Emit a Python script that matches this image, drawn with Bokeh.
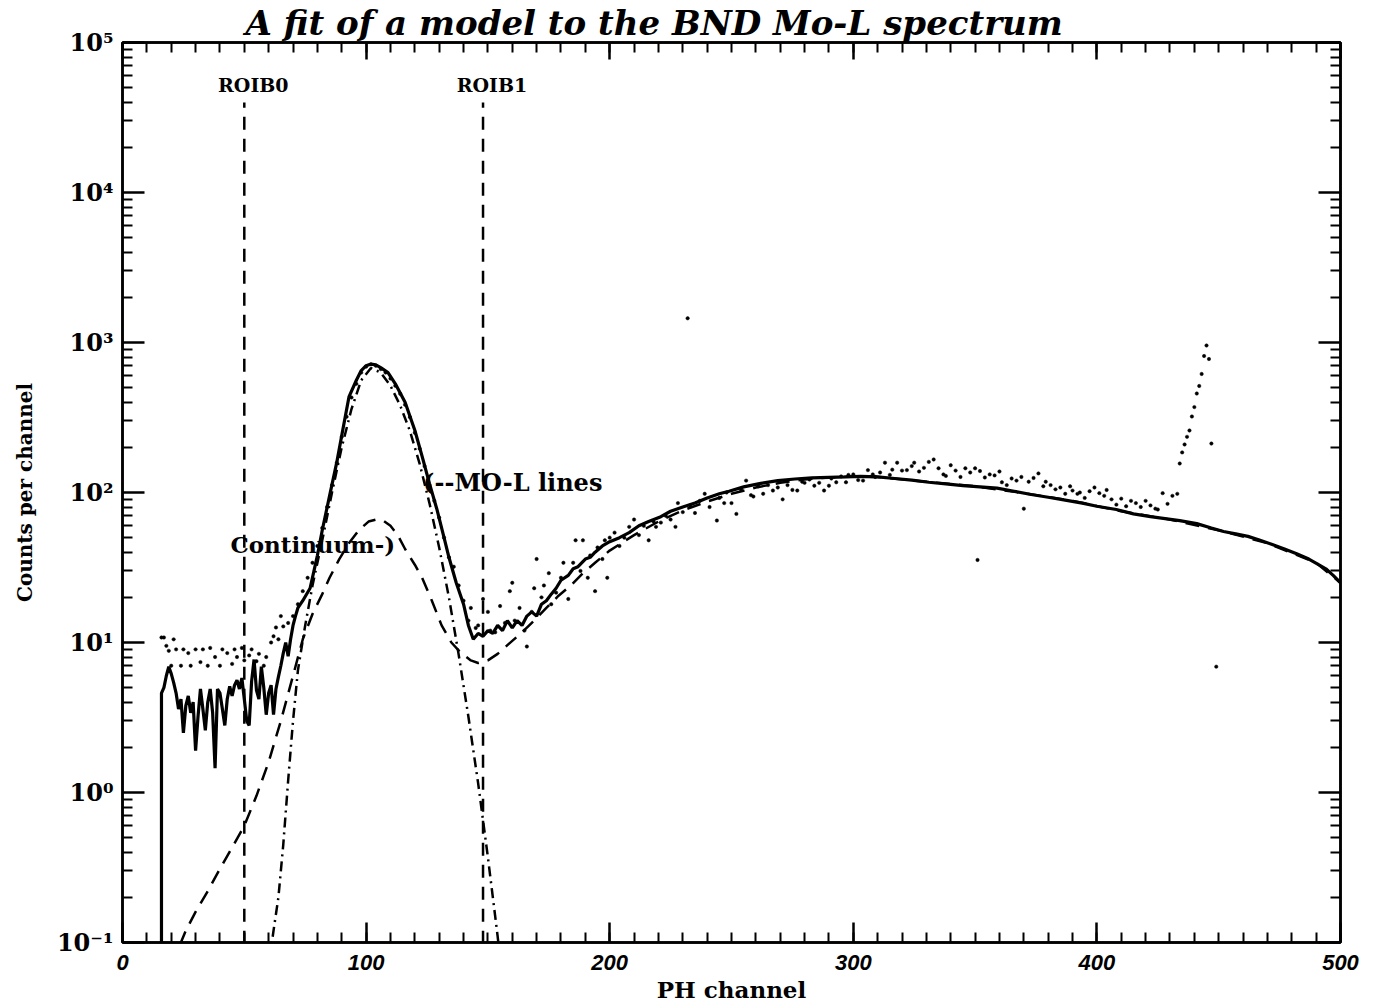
from bokeh.plotting import figure
from bokeh.models import (Range1d, FixedTicker, CustomJSTickFormatter, LinearAxis,
                          LogAxis, Label)
from bokeh.embed import file_html
from bokeh.resources import INLINE

# ---------------- data ----------------
title_text = "A fit of a model to the BND Mo-L spectrum"
x_label = "PH channel"
y_label = "Counts per channel"

x_ticks = [0, 100, 200, 300, 400, 500]
x_tick_labels = ["0", "100", "200", "300", "400", "500"]
y_ticks = [0.1, 1, 10, 100, 1000, 10000, 100000]
y_tick_labels = ["10⁻¹", "10⁰", "10¹", "10²", "10³", "10⁴", "10⁵"]

roi_bounds = [50, 148]
roi_names = ["ROIB0", "ROIB1"]

# solid curve
solid_x = [16, 16, 17, 18, 19, 20, 21, 22, 23, 24, 25, 26, 27, 28, 29, 30, 31, 32, 33, 34,
           35, 36, 37, 38, 39, 40, 41, 42, 43, 44, 45, 46, 47, 48, 49, 50, 51, 52, 53, 54,
           55, 56, 57, 58, 59, 60, 61, 62, 63, 64, 65, 66, 67, 68, 69, 70, 71, 72, 74, 77,
           80, 82, 85, 88, 90, 93, 96, 98, 100, 102, 104, 106, 109, 112, 116, 120, 123, 126,
           129, 132, 134, 137, 140, 142, 144, 146, 148, 150, 152, 154, 156, 158, 160, 162,
           164, 166, 168, 170, 172, 174, 176, 178, 180, 183, 185, 187, 190, 192, 194, 197,
           200, 204, 208, 212, 216, 221, 225, 230, 235, 240, 245, 249, 255, 262, 269, 276,
           283, 290, 297, 303, 310, 317, 324, 331, 338, 345, 352, 359, 366, 373, 380, 387,
           394, 400, 408, 415, 422, 428, 434, 441, 447, 452, 457, 462, 467, 472, 477, 482,
           487, 491, 494, 497, 500]
solid_y = [0.01, 4.6, 5.0, 6.0, 6.9, 6.2, 5.4, 4.6, 3.6, 4.2, 2.5, 3.8, 4.4, 3.4, 4.0, 1.9,
           3.2, 4.9, 3.6, 2.6, 4.0, 4.9, 3.4, 1.45, 4.9, 4.6, 3.6, 2.8, 4.2, 5.1, 4.4, 5.2,
           5.6, 4.9, 5.8, 4.2, 3.0, 2.8, 5.5, 7.7, 4.8, 4.2, 6.9, 5.0, 3.3, 4.6, 5.2, 3.3,
           4.9, 5.9, 7.0, 8.5, 10.0, 8.1, 10.5, 13, 15, 17, 19, 23,
           38, 56, 95, 160, 240, 436, 560, 650, 700, 718, 710, 680, 630, 530, 400, 260, 174,
           115, 78, 50, 37, 25, 18, 13, 10.5, 11.5, 11, 12, 11.5, 13, 12, 14, 12.5, 14,
           13, 15, 16, 15, 18, 19, 21, 23, 26, 28, 31, 32, 36, 37, 40, 44,
           47, 50, 54, 60, 64, 69, 75, 80, 85, 92, 98, 102, 109, 115, 120, 123,
           125, 126, 127, 128, 127, 124, 121, 117, 114, 111, 109, 107, 102, 97, 93, 89,
           85, 81, 77, 72, 69, 67, 65, 62, 58, 55, 53, 51, 48, 45, 42, 39,
           36, 33, 31, 28, 25]

# dashed continuum
cont_x = [20, 26, 30, 35, 40, 45, 50, 55, 60, 65, 70, 74, 78, 82, 85, 89, 93, 97, 101, 104,
          107, 110, 113, 116, 120, 123, 127, 131, 135, 139, 143, 146, 150, 154, 158, 164,
          169, 174, 179, 184, 189, 194, 200, 210, 220, 230, 240, 250, 260, 270, 280, 290,
          300, 310, 330, 350, 370, 390, 410, 430, 450, 470, 490, 500]
cont_y = [0.07, 0.12, 0.16, 0.22, 0.31, 0.43, 0.6, 0.95, 1.6, 3.0, 6.0, 10.5, 15.5, 21, 27,
          36, 46, 56, 64, 66, 65, 60, 52, 42, 33, 27, 19, 13, 10, 8.5, 7.6, 7.3, 7.6, 8.4,
          9.6, 11.7, 14, 17, 20.5, 24, 29, 34, 41, 52, 64, 76, 87, 98, 108, 116, 122, 126,
          128, 127, 118, 110, 99, 88, 75, 66, 56, 46, 34, 25]

# dash-dot Mo-L lines
lines_x = [58, 60, 62, 64, 66, 68, 70, 72, 75, 78, 82, 86, 90, 94, 98, 102, 106, 110, 114,
           118, 122, 126, 130, 134, 138, 142, 146, 150, 154, 157]
lines_y = [0.04, 0.07, 0.12, 0.2, 0.45, 1.2, 3.0, 6.5, 13, 24, 48, 100, 200, 360, 560, 676,
           630, 515, 380, 257, 155, 85, 43, 20, 8.3, 3.2, 1.15, 0.37, 0.11, 0.04]

# scattered data points
dots_x = [16, 17, 18, 19, 20, 21, 22, 24, 25, 27, 28, 30, 32, 33, 35, 36, 38, 40, 41, 43,
          45, 46, 47, 49, 50, 52, 53, 55, 56, 58, 59, 61, 62, 63, 64, 65, 66, 68,
          70, 72, 74, 76, 78, 80, 82, 84, 86, 88, 90, 92, 94, 96, 98, 100, 102, 104, 106,
          108, 110, 112, 114, 116, 118, 120, 122, 124, 126, 128, 130, 132, 134, 136, 138, 140,
          142, 143, 145, 146, 148, 150, 151, 153, 155, 157, 159, 160, 161, 163, 165, 166, 168,
          169, 170, 172, 173, 175, 176, 178, 180, 181, 183, 185, 186, 188, 189, 191, 192, 194,
          195, 197, 198, 199, 200, 202, 204, 206, 208, 210, 212, 214, 216, 218, 219, 221, 223,
          225, 227, 228, 230, 232, 233, 235, 237, 239, 241, 244, 245, 247, 248, 250, 252, 254,
          256, 258, 259, 261, 263, 265, 267, 269, 271, 273, 275, 277, 279, 280, 282, 284, 286,
          288, 290, 291, 293, 295, 297, 298, 300, 302, 304, 306, 308, 309, 311, 313, 315, 316,
          318, 320, 322, 324, 325, 327, 329, 331, 333, 335, 337, 338, 340, 342, 344, 346, 348,
          350, 351, 352, 354, 356, 358, 360, 361, 363, 365, 367, 369, 370, 372, 374, 376, 378,
          379, 381, 383, 385, 387, 389, 390, 392, 393, 395, 397, 399, 401, 403, 404, 406, 408,
          410, 412, 414, 416, 418, 420, 422, 424, 425, 427, 429, 431, 433,
          434, 435, 436, 437, 438, 439, 440, 441, 442, 443, 444, 445, 446, 447, 449]
dots_y = [10.8, 10.8, 9.5, 8.8, 7.0, 10.5, 9.0, 7.0, 9.0, 8.5, 7.0, 9.0, 7.4, 9.0, 7.0, 9.2,
          8.0, 7.0, 9.0, 8.5, 7.2, 9.0, 8.0, 9.2, 7.6, 8.2, 9.0, 7.5, 8.4, 7.0, 8.0, 10.0,
          11.0, 12.6, 10.5, 15.0, 12.8, 13.5,
          15, 18, 22, 27, 34, 44, 58, 80, 112, 158, 235, 320, 430, 530, 630, 690, 715, 700,
          665, 630, 575, 515, 455, 385, 318, 250, 196, 150, 112, 88, 68, 50, 37, 32, 24, 19,
          14, 17, 12.5, 13, 19.5, 16, 12, 11.7, 17.5, 13.5, 22, 25, 14, 17, 12, 9.4, 16,
          23, 36, 20, 24, 29, 18, 21.5, 27, 34, 19.5, 34, 48, 30, 48, 27, 38, 22,
          43, 36, 48, 27, 50, 54, 44, 50, 59, 66, 52, 60, 48, 64, 59, 63, 70,
          66, 59, 85, 74, 1450, 82, 73, 88, 98, 80, 65, 92, 85, 100, 85, 72, 104,
          120, 96, 94, 110, 98, 112, 103, 108, 90, 112, 104, 103, 118, 116, 122, 111, 116,
          103, 111, 124, 117, 128, 117, 131, 132, 121, 120, 141, 132, 127, 136, 158, 131, 142,
          158, 140, 141, 150, 158, 138, 146, 160, 166, 145, 132, 129, 152, 140, 127, 145, 136,
          145, 35.5, 139, 126, 132, 130, 138, 117, 112, 124, 120, 127, 78, 118, 125, 134, 110,
          118, 112, 105, 108, 98, 110, 103, 98, 100, 92, 102, 108, 99, 95, 104, 90, 83,
          91, 81, 88, 85, 80, 88, 82, 78, 77, 99, 84, 95, 98,
          156, 185, 209, 235, 259, 321, 371, 457, 513, 617, 813, 955, 776, 212, 6.9]

# ---------------- figure ----------------
SERIF = "DejaVu Serif"

p = figure(frame_width=1218, frame_height=900, y_axis_type="log",
           x_range=Range1d(0, 500), y_range=Range1d(0.1, 1e5),
           output_backend="svg", toolbar_location=None,
           min_border_left=122, min_border_top=37, min_border_right=38,
           min_border_bottom=66)
p.background_fill_color = "white"
p.border_fill_color = "white"
p.outline_line_color = "black"
p.outline_line_width = 2.5
p.grid.visible = False

p.title.text = title_text
p.title.align = "left"
p.title.offset = 123
p.title.standoff = 0
p.title.text_font = SERIF
p.title.text_font_style = "bold italic"
p.title.text_font_size = "34px"
p.title.text_color = "black"

x_minor = list(range(0, 501, 10))
y_minor = [m * 10.0 ** e for e in range(-1, 5) for m in range(2, 10)]

y_fmt = CustomJSTickFormatter(args=dict(vals=y_ticks, labels=y_tick_labels), code="""
    for (let i = 0; i < vals.length; i++) {
        if (Math.abs(Math.log10(vals[i]) - Math.log10(tick)) < 1e-6) return labels[i];
    }
    return "";
""")
x_fmt = CustomJSTickFormatter(args=dict(vals=x_ticks, labels=x_tick_labels), code="""
    for (let i = 0; i < vals.length; i++) {
        if (Math.abs(vals[i] - tick) < 1e-6) return labels[i];
    }
    return "";
""")
blank_fmt = CustomJSTickFormatter(code="return '';")


def style_axis(ax, major_len, minor_len):
    ax.axis_line_color = "black"
    ax.axis_line_width = 2.5
    ax.major_tick_line_color = "black"
    ax.major_tick_line_width = 2.5
    ax.minor_tick_line_color = "black"
    ax.minor_tick_line_width = 2
    ax.major_tick_in = major_len
    ax.major_tick_out = 0
    ax.minor_tick_in = minor_len
    ax.minor_tick_out = 0
    ax.major_label_text_color = "black"
    ax.axis_label_text_color = "black"


xa = p.xaxis[0]
xa.ticker = FixedTicker(ticks=x_ticks, minor_ticks=x_minor)
xa.formatter = x_fmt
style_axis(xa, 20, 10)
xa.major_label_text_font = "Liberation Sans"
xa.major_label_text_font_style = "bold italic"
xa.major_label_text_font_size = "22px"
xa.major_label_standoff = 12
xa.axis_label = x_label
xa.axis_label_text_font = SERIF
xa.axis_label_text_font_style = "bold"
xa.axis_label_text_font_size = "23px"
xa.axis_label_standoff = 3

ya = p.yaxis[0]
ya.ticker = FixedTicker(ticks=y_ticks, minor_ticks=y_minor)
ya.formatter = y_fmt
style_axis(ya, 22, 10)
ya.major_label_text_font = SERIF
ya.major_label_text_font_style = "bold"
ya.major_label_text_font_size = "24px"
ya.major_label_standoff = 9
ya.axis_label = y_label
ya.axis_label_text_font = SERIF
ya.axis_label_text_font_style = "bold"
ya.axis_label_text_font_size = "20px"
ya.axis_label_standoff = 17

top = LinearAxis(ticker=FixedTicker(ticks=x_ticks, minor_ticks=x_minor), formatter=blank_fmt)
style_axis(top, 17, 10)
top.major_label_text_font_size = "0px"
top.major_label_standoff = 0
p.add_layout(top, "above")

right = LogAxis(ticker=FixedTicker(ticks=y_ticks, minor_ticks=y_minor), formatter=blank_fmt)
style_axis(right, 22, 10)
right.major_label_text_font_size = "0px"
right.major_label_standoff = 0
p.add_layout(right, "right")

# ---------------- glyphs ----------------
p.scatter(dots_x, dots_y, marker="circle", size=3.4, fill_color="black",
          line_color="black", line_width=0.5)
p.line(cont_x, cont_y, line_color="black", line_width=2.5, line_dash="14 9")
p.line(lines_x, lines_y, line_color="black", line_width=2.5, line_dash="10 5 2 5")
p.line(solid_x, solid_y, line_color="black", line_width=3.2)

for xb, name in zip(roi_bounds, roi_names):
    p.line([xb, xb], [0.05, 10 ** 4.6], line_color="black", line_width=2.5,
           line_dash="13 9")
    p.add_layout(Label(x=xb, y=10 ** 4.72, text=name, text_font=SERIF,
                       text_font_style="bold", text_font_size="19px",
                       text_align="center", text_baseline="middle", x_offset=9,
                       text_color="black"))

p.add_layout(Label(x=44.3, y=45, text="Continuum-)", text_font=SERIF,
                   text_font_style="bold", text_font_size="23px",
                   text_align="left", text_baseline="middle", text_color="black"))
p.add_layout(Label(x=123.4, y=117, text="(--MO-L lines", text_font=SERIF,
                   text_font_style="bold", text_font_size="24px",
                   text_align="left", text_baseline="middle", text_color="black"))

open("out.html", "w").write(file_html(p, INLINE))
